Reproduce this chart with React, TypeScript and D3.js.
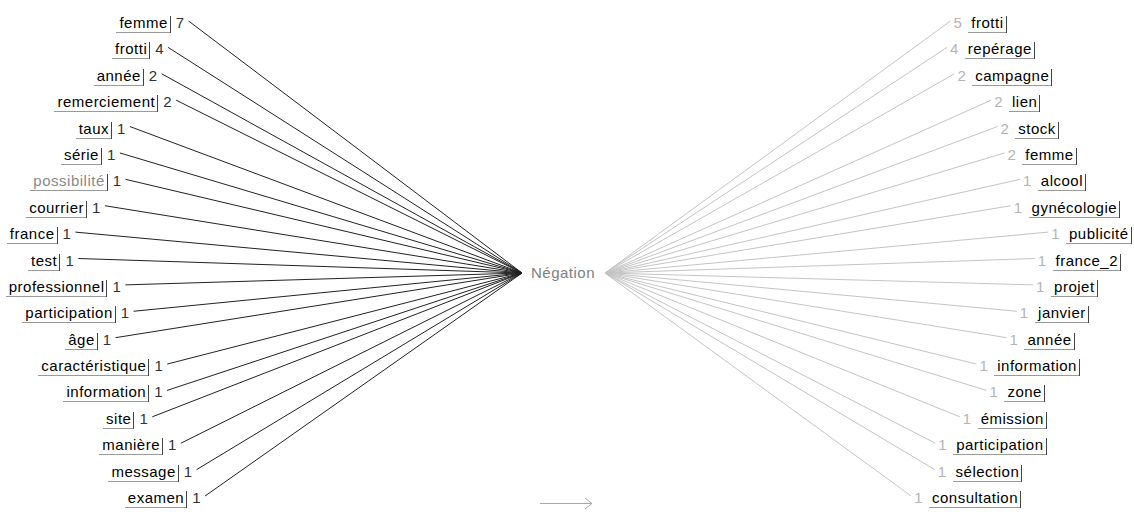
import React, { useEffect, useRef } from 'react';
import * as d3 from 'd3';

const centerWord = 'Négation';

const leftWords = ['femme', 'frotti', 'année', 'remerciement', 'taux', 'série', 'possibilité', 'courrier', 'france', 'test',
  'professionnel', 'participation', 'âge', 'caractéristique', 'information', 'site', 'manière', 'message', 'examen'];
const leftCounts = [7, 4, 2, 2, 1, 1, 1, 1, 1, 1, 1, 1, 1, 1, 1, 1, 1, 1, 1];
const leftDimmed = ['possibilité'];

const rightWords = ['frotti', 'repérage', 'campagne', 'lien', 'stock', 'femme', 'alcool', 'gynécologie', 'publicité', 'france_2',
  'projet', 'janvier', 'année', 'information', 'zone', 'émission', 'participation', 'sélection', 'consultation'];
const rightCounts = [5, 4, 2, 2, 2, 2, 1, 1, 1, 1, 1, 1, 1, 1, 1, 1, 1, 1, 1];

const W = 1134;
const H = 512;
const FONT = '"Liberation Sans", Arial, sans-serif';

const App = () => {
  const svgRef = useRef<SVGSVGElement | null>(null);

  useEffect(() => {
    const svg = d3.select(svgRef.current);
    svg.selectAll('*').remove();

    const hubLeft: [number, number] = [522, 273];
    const hubRight: [number, number] = [605, 273];

    // rows and the V-shaped fan of label centres
    const y = d3.scalePoint<number>().domain(d3.range(leftWords.length)).range([28, 503]);
    const mid = (leftWords.length - 2) / 2; // 8.5
    const fan = d3.scaleLinear().domain([0, mid + 1]).range([0, 118]);
    const bump = (i: number) => (i === Math.floor(mid) ? 12 : 0);
    const leftX = (i: number) => 38 + fan(Math.abs(i - mid)) - bump(i);
    const rightX = (i: number) => 1093 - fan(Math.abs(i - mid)) + bump(i);

    const gLinks = svg.append('g');
    const gLabels = svg.append('g').attr('font-family', FONT).attr('font-size', 15).attr('letter-spacing', 0.5);

    const drawBox = (cx: number, by: number, w: number) => {
      const x0 = Math.round(cx - w / 2 - 4) + 0.5;
      const x1 = Math.round(cx + w / 2 + 2) + 0.5;
      const yb = Math.round(by + 4) + 0.5;
      gLabels.append('line').attr('x1', x0).attr('x2', x1).attr('y1', yb).attr('y2', yb)
        .attr('stroke', '#9a9a9a').attr('shape-rendering', 'crispEdges');
      gLabels.append('line').attr('x1', x1).attr('x2', x1).attr('y1', yb - 17).attr('y2', yb)
        .attr('stroke', '#444').attr('shape-rendering', 'crispEdges');
    };

    // left side
    leftWords.forEach((word, i) => {
      const cx = leftX(i);
      const by = y(i)!;
      const t = gLabels.append('text').attr('x', cx).attr('y', by).attr('text-anchor', 'middle')
        .attr('fill', leftDimmed.includes(word) ? '#8a8a8a' : '#000').text(word);
      const w = (t.node() as SVGTextElement).getBBox().width;
      drawBox(cx, by, w);
      const nx = cx + w / 2 + 8;
      const n = gLabels.append('text').attr('x', nx).attr('y', by).attr('fill', '#333').text(leftCounts[i]);
      const nw = (n.node() as SVGTextElement).getBBox().width;
      gLinks.append('line').attr('x1', nx + nw + 4).attr('y1', by - 7)
        .attr('x2', hubLeft[0]).attr('y2', hubLeft[1]).attr('stroke', '#222').attr('stroke-width', 1);
    });

    // right side
    rightWords.forEach((word, i) => {
      const cx = rightX(i);
      const by = y(i)!;
      const t = gLabels.append('text').attr('x', cx).attr('y', by).attr('text-anchor', 'middle')
        .attr('fill', '#000').text(word);
      const w = (t.node() as SVGTextElement).getBBox().width;
      drawBox(cx, by, w);
      const n = gLabels.append('text').attr('x', cx - w / 2 - 9).attr('y', by).attr('text-anchor', 'end')
        .attr('fill', '#b4b4b4').text(rightCounts[i]);
      const nb = (n.node() as SVGTextElement).getBBox();
      gLinks.append('line').attr('x1', hubRight[0]).attr('y1', hubRight[1])
        .attr('x2', nb.x - 3).attr('y2', by - 7).attr('stroke', '#c4c4c4').attr('stroke-width', 1);
    });

    // centre word
    gLabels.append('text').attr('x', 563).attr('y', 278).attr('text-anchor', 'middle')
      .attr('fill', '#808080').text(centerWord);

    // direction arrow
    const arrow = svg.append('g').attr('stroke', '#aaa').attr('fill', 'none');
    arrow.append('line').attr('x1', 540).attr('x2', 592).attr('y1', 503.5).attr('y2', 503.5);
    arrow.append('path').attr('d', 'M585,498 L592,503.5 L585,509');
  }, []);

  return (
    <svg ref={svgRef} width={W} height={H}
      style={{ position: 'absolute', left: 0, top: 0, background: '#fff', display: 'block' }} />
  );
};

export default App;
